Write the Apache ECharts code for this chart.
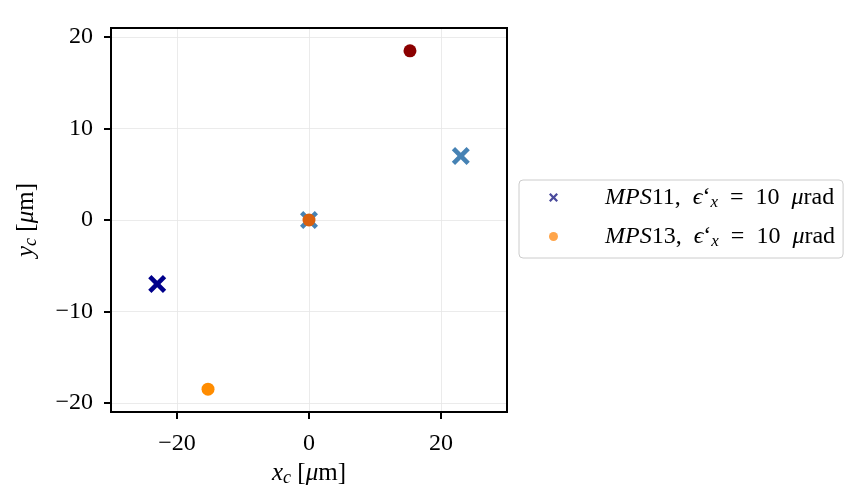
<!DOCTYPE html>
<html>
<head>
<meta charset="utf-8">
<script src="https://cdn.jsdelivr.net/npm/echarts@6/dist/echarts.min.js"></script>
<style>
  html, body { margin: 0; padding: 0; background: #fff; }
  #main { width: 865px; height: 504px; }
</style>
</head>
<body>
<div id="main"></div>
<script>
// beam centroid positions
var mps11X = [-23, 0, 23];
var mps11Y = [-7, 0, 7];
var mps13X = [-15.3, 0, 15.3];
var mps13Y = [-18.5, 0, 18.5];
var xTicks = [-20, 0, 20];
var yTicks = [-20, -10, 0, 10, 20];
var legendNames = ['MPS11', 'MPS13'];

var mps11Colors = ['#00008b', '#4682b4', '#4682b4'];
var mps13Colors = ['#ff8c00', '#d9600f', '#8b0000'];

var FONT = 'Liberation Serif';
var crossPath = 'path://M0,1.8L1.8,0L5,3.2L8.2,0L10,1.8L6.8,5L10,8.2L8.2,10L5,6.8L1.8,10L0,8.2L3.2,5Z';

function pts(xs, ys, colors) {
    var out = [];
    for (var i = 0; i < xs.length; i++) {
        out.push({ value: [xs[i], ys[i]], itemStyle: { color: colors[i] } });
    }
    return out;
}

function minus(v) {
    return String(v).replace('-', '\u2212');
}

function richSet(size) {
    return {
        i: { fontFamily: FONT, fontStyle: 'italic', fontSize: size, color: '#000' },
        n: { fontFamily: FONT, fontSize: size, color: '#000' },
        sub: { fontFamily: FONT, fontStyle: 'italic', fontSize: Math.round(size * 0.7), color: '#000', verticalAlign: 'bottom', padding: [Math.round(size * 0.4), 0, 0, 0] }
    };
}

var myChart = echarts.init(document.getElementById('main'));
myChart.setOption({
    backgroundColor: '#fff',
    animation: false,
    grid: { left: 111, top: 28, right: 358, bottom: 92, containLabel: false },
    legend: {
        left: 519,
        top: 180,
        orient: 'vertical',
        itemWidth: 9,
        itemHeight: 9,
        itemGap: 12,
        padding: [4, 8, 8, 30],
        backgroundColor: '#fff',
        borderColor: '#cccccc',
        borderWidth: 1,
        borderRadius: 4,
        data: [
            { name: legendNames[0], icon: crossPath, itemStyle: { color: '#4a4a9c', opacity: 1 } },
            { name: legendNames[1], icon: 'circle', itemStyle: { color: '#ffa54a', opacity: 1 } }
        ],
        formatter: function (name) {
            return '{i|MPS}{n|' + name.slice(3) + ',  }{i|\u03f5}{n|\u2018}{sub|x}{n|  =  10  }{i|\u03bc}{n|rad}';
        },
        textStyle: { rich: richSet(24), padding: [0, 0, 0, 42], lineHeight: 27 }
    },
    xAxis: {
        type: 'value',
        min: -30,
        max: 30,
        interval: 10,
        name: '{i|x}{sub|c}{n| [}{i|\u03bc}{n|m]}',
        nameLocation: 'middle',
        nameGap: 46,
        nameTextStyle: { rich: richSet(25) },
        axisLine: { show: true, onZero: false, lineStyle: { color: '#000', width: 2 } },
        axisTick: {
            show: true, length: 7, lineStyle: { color: '#000', width: 2 },
            customValues: xTicks
        },
        axisLabel: {
            fontFamily: FONT, fontSize: 24, color: '#000', margin: 20,
            customValues: xTicks,
            formatter: minus
        },
        splitLine: { show: true, lineStyle: { color: '#e6e6e6', width: 0.8 } }
    },
    yAxis: {
        type: 'value',
        min: -21,
        max: 21,
        name: '{i|y}{sub|c}{n| [}{i|\u03bc}{n|m]}',
        nameLocation: 'middle',
        nameGap: 71,
        nameRotate: 90,
        nameTextStyle: { rich: richSet(25) },
        axisLine: { show: true, onZero: false, lineStyle: { color: '#000', width: 2 } },
        axisTick: {
            show: true, length: 7, lineStyle: { color: '#000', width: 2 },
            customValues: yTicks
        },
        axisLabel: {
            fontFamily: FONT, fontSize: 24, color: '#000', margin: 18,
            customValues: yTicks,
            formatter: minus
        },
        splitLine: { show: true, lineStyle: { color: '#e6e6e6', width: 0.8 } }
    },
    series: [
        {
            name: legendNames[0],
            type: 'scatter',
            symbol: crossPath,
            symbolSize: 18,
            itemStyle: { color: '#4a4a9c', opacity: 1 },
            data: pts(mps11X, mps11Y, mps11Colors)
        },
        {
            name: legendNames[1],
            type: 'scatter',
            symbol: 'circle',
            symbolSize: 13,
            itemStyle: { color: '#ffa54a', opacity: 1 },
            data: pts(mps13X, mps13Y, mps13Colors)
        }
    ]
});
// frame on the top and right sides
myChart.setOption({
    graphic: [{
        type: 'rect',
        shape: { x: 111, y: 28, width: 396, height: 384 },
        style: { fill: 'none', stroke: '#000', lineWidth: 2 },
        silent: true
    }]
});
</script>
</body>
</html>
